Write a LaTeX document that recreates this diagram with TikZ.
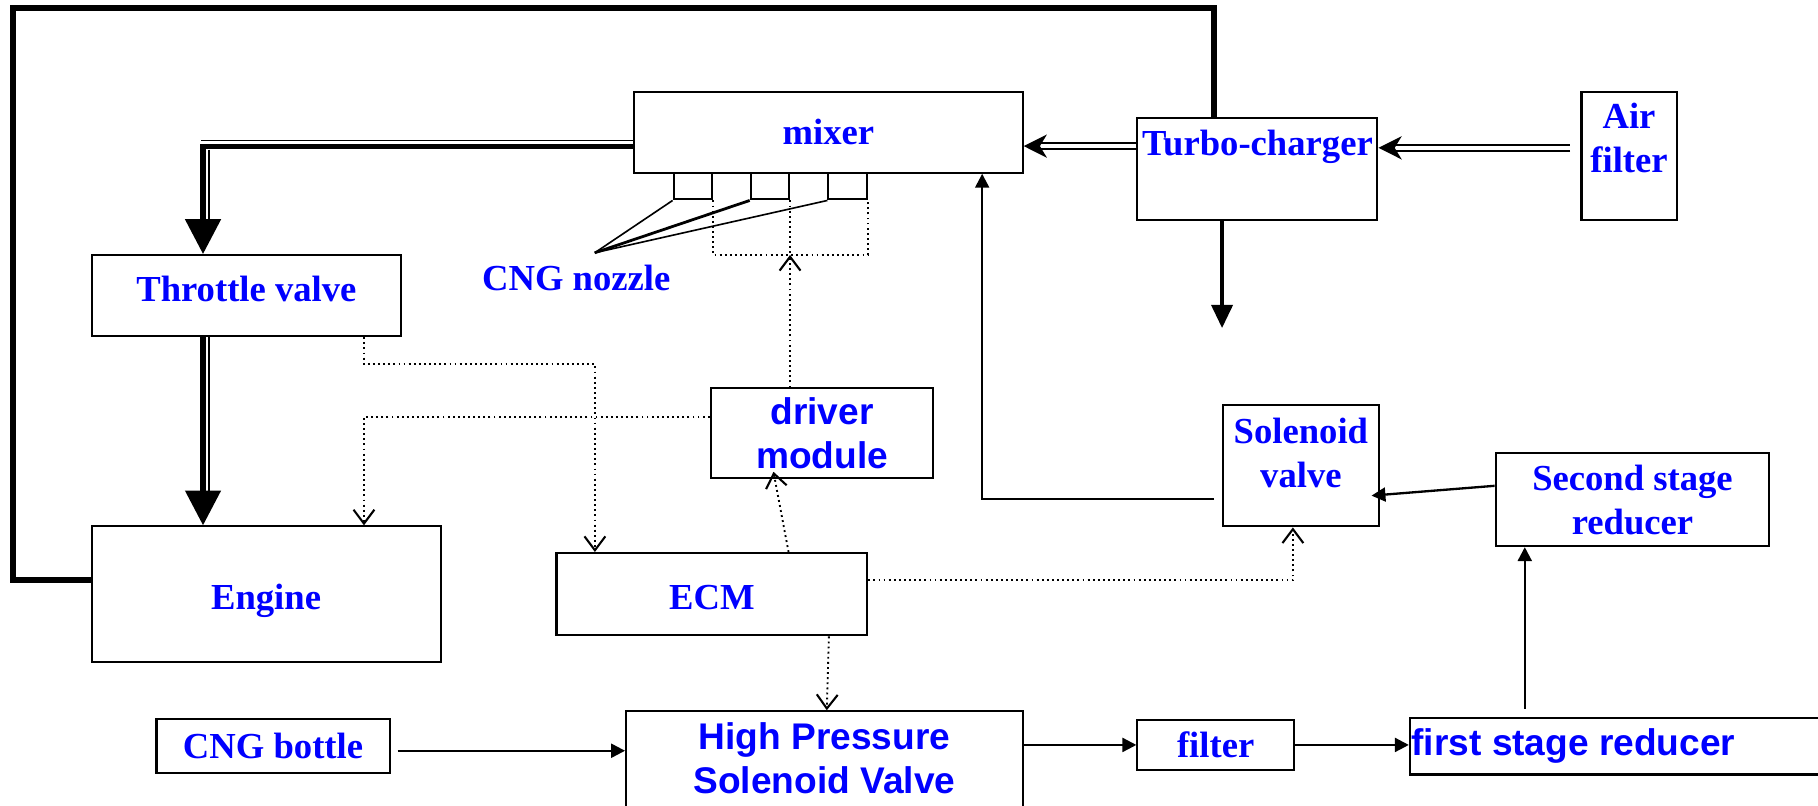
\documentclass[tikz,border=0pt]{standalone}
\usepackage{fontspec}
\setmainfont{Liberation Serif}
\newfontfamily\arialfont{Liberation Sans}
\usetikzlibrary{arrows.meta,calc}
\definecolor{txtblue}{RGB}{0,0,255}

\begin{document}
\begin{tikzpicture}[
x=0.5pt, y=-0.5pt,
box/.style={draw, rectangle, line width=0.9pt, inner sep=0pt, font=\fontsize{15.8}{19}\selectfont\bfseries, text=txtblue, align=center},
sbox/.style={box, font=\fontsize{16}{19}\selectfont\arialfont\bfseries},
lbl/.style={font=\fontsize{15.8}{19}\selectfont\bfseries, text=txtblue, align=center, inner sep=0pt},
slbl/.style={lbl, font=\fontsize{16}{19}\selectfont\arialfont\bfseries},
hair/.style={line width=0.7pt},
flow/.style={-{Triangle[length=6pt,width=6pt]}, line width=1pt},
ctrl/.style={-{Straight Barb[length=6pt,width=9pt,line width=0.9pt]}, dots},
dots/.style={dash pattern=on 0.8pt off 1.4pt, line width=0.8pt},
dbl/.style={double, double distance=1.6pt, line width=0.8pt, -{Stealth[length=10pt,width=10pt,inset=3pt]}},
heavy/.style={line width=2.3pt, line join=miter, -{Triangle[length=15pt,width=15pt]}},
outerline/.style={line width=2.5pt, line join=miter}
]
\clip (0,0) rectangle (1568,695);

% boxes
\node[box, minimum width=167.5pt, minimum height=35pt] (mixer) at (714.5,114) {mixer};
\foreach \i/\x in {1/597.5, 2/664, 3/731}
  \node[box, minimum width=16.5pt, minimum height=11.5pt] (noz\i) at (\x,160.5) {};
\node[box, minimum width=103.5pt, minimum height=44pt,
  label={[lbl,anchor=north,yshift=-5.5pt]north:Turbo-charger}] (turbo) at (1084.5,146) {};
\node[box, minimum width=41pt, minimum height=55.5pt,
  label={[lbl,anchor=north,yshift=-5pt]north:{Air\\filter}}] (airfilter) at (1405,134.5) {};
\node[box, minimum width=133.5pt, minimum height=35pt, text depth=6.3pt] (throttle) at (212.5,255) {Throttle valve};
\node[box, minimum width=150.5pt, minimum height=58.5pt, text height=16.3pt, text depth=3.4pt] (engine) at (229.5,512.5) {Engine};
\node[sbox, minimum width=96pt, minimum height=38.5pt] (driver) at (709,373.5) {driver\\module};
\node[box, minimum width=134pt, minimum height=35.5pt, text height=13.4pt, text depth=0pt] (ecm) at (614,512.5) {ECM};
\node[box, minimum width=67pt, minimum height=52.5pt,
  label={[lbl,anchor=north,yshift=-6pt]north:{Solenoid\\valve}}] (solvalve) at (1122,401.5) {};
\node[box, minimum width=118pt, minimum height=40pt] (secondred) at (1408,431) {Second stage\\reducer};
\node[box, minimum width=100.5pt, minimum height=23.5pt] (bottle) at (235.5,643.5) {CNG bottle};
\node[box, minimum width=171pt, minimum height=59pt,
  label={[slbl,anchor=north,yshift=-5pt]north:{High Pressure\\Solenoid Valve}}] (hpvalve) at (711,672.5) {};
\node[box, minimum width=67.5pt, minimum height=21.5pt] (filter) at (1048.5,642.5) {filter};
\node[box, minimum width=202pt, minimum height=24.5pt,
  label={[slbl,anchor=west,xshift=1pt]west:first stage reducer}] (firstred) at (1418,643.5) {};
\node[lbl] (nozlabel) at (497,240) {CNG nozzle};

% air path
\draw[outerline] ($(engine.west)+(0,-12)$) -- ++(-67,0) |- ($(turbo.north west)+(67,-94)$) -- ($(turbo.north west)+(67,0)$);
\draw[dbl] ($(airfilter.west)+(-9,-7)$) coordinate (af) -- (af -| turbo.east);
\draw[dbl] ($(turbo.west)+(0,-20)$) coordinate (tc) -- (tc -| mixer.east);
\coordinate (exhaust) at (1054,283);
\draw[line width=1.8pt, -{Triangle[length=10pt,width=9pt]}] (turbo.south -| exhaust) -- (exhaust);

\coordinate (bend) at ($(throttle.north west)+(97,-93)$);
\draw[heavy] (mixer.west |- bend) -- (bend) -- ($(throttle.north west)+(97,0)$);
\draw[hair] ($(mixer.west |- bend)+(0,-5)$) -- ($(bend)+(-2,-5)$);
\draw[hair] ($(bend)+(5,3)$) -- ($(throttle.north west)+(102,-22)$);
\draw[heavy] ($(throttle.south west)+(97,0)$) -- ($(engine.north west)+(97,0)$);
\draw[hair] ($(throttle.south west)+(102,0)$) -- ($(engine.north west)+(102,-26)$);

% nozzles
\coordinate (nozpt) at (513,218);
\draw[hair] (nozpt) -- (noz1.south west);
\draw[line width=1.2pt] (nozpt) -- (noz2.south west);
\draw[hair] (nozpt) -- (noz3.south west);
\draw[dots] (noz1.south east) -- ++(0,47) -| (noz3.south east);
\draw[dots] (noz2.south east) -- ++(0,47) coordinate (nozjoin);

% control signals
\draw[ctrl] (driver.north -| nozjoin) -- (nozjoin);
\draw[ctrl] ($(throttle.south east)+(-33,0)$) -- ++(0,23) -| ($(ecm.north west)+(34,0)$);
\draw[ctrl] ($(driver.west)+(0,-14)$) -| ($(engine.north east)+(-67,0)$);
\draw[ctrl] ($(ecm.north west)+(201,0)$) -- ($(driver.south west)+(55,-6)$);
\draw[ctrl] ($(ecm.east)+(0,-12)$) -| ($(solvalve.south west)+(61,0)$);
\draw[ctrl] ($(ecm.south east)+(-34,0)$) -- ($(hpvalve.north west)+(174,0)$);

% gas path
\draw[flow] (bottle.east) ++(6,4) coordinate (cb) -- (cb -| hpvalve.west);
\draw[flow] (hpvalve.east |- filter.west) -- (filter.west);
\draw[flow] (filter.east) -- (filter.east -| firstred.west);
\draw[flow] ($(firstred.north west)+(100,-7)$) coordinate (fr) -- (fr |- secondred.south);
\draw[flow] ($(secondred.west)+(0,-12)$) -- ($(solvalve.east)+(-7,26)$);
\draw[flow] ($(solvalve.west)+(-7,29)$) -| ($(mixer.south west)+(301,0)$);

\end{tikzpicture}
\end{document}
